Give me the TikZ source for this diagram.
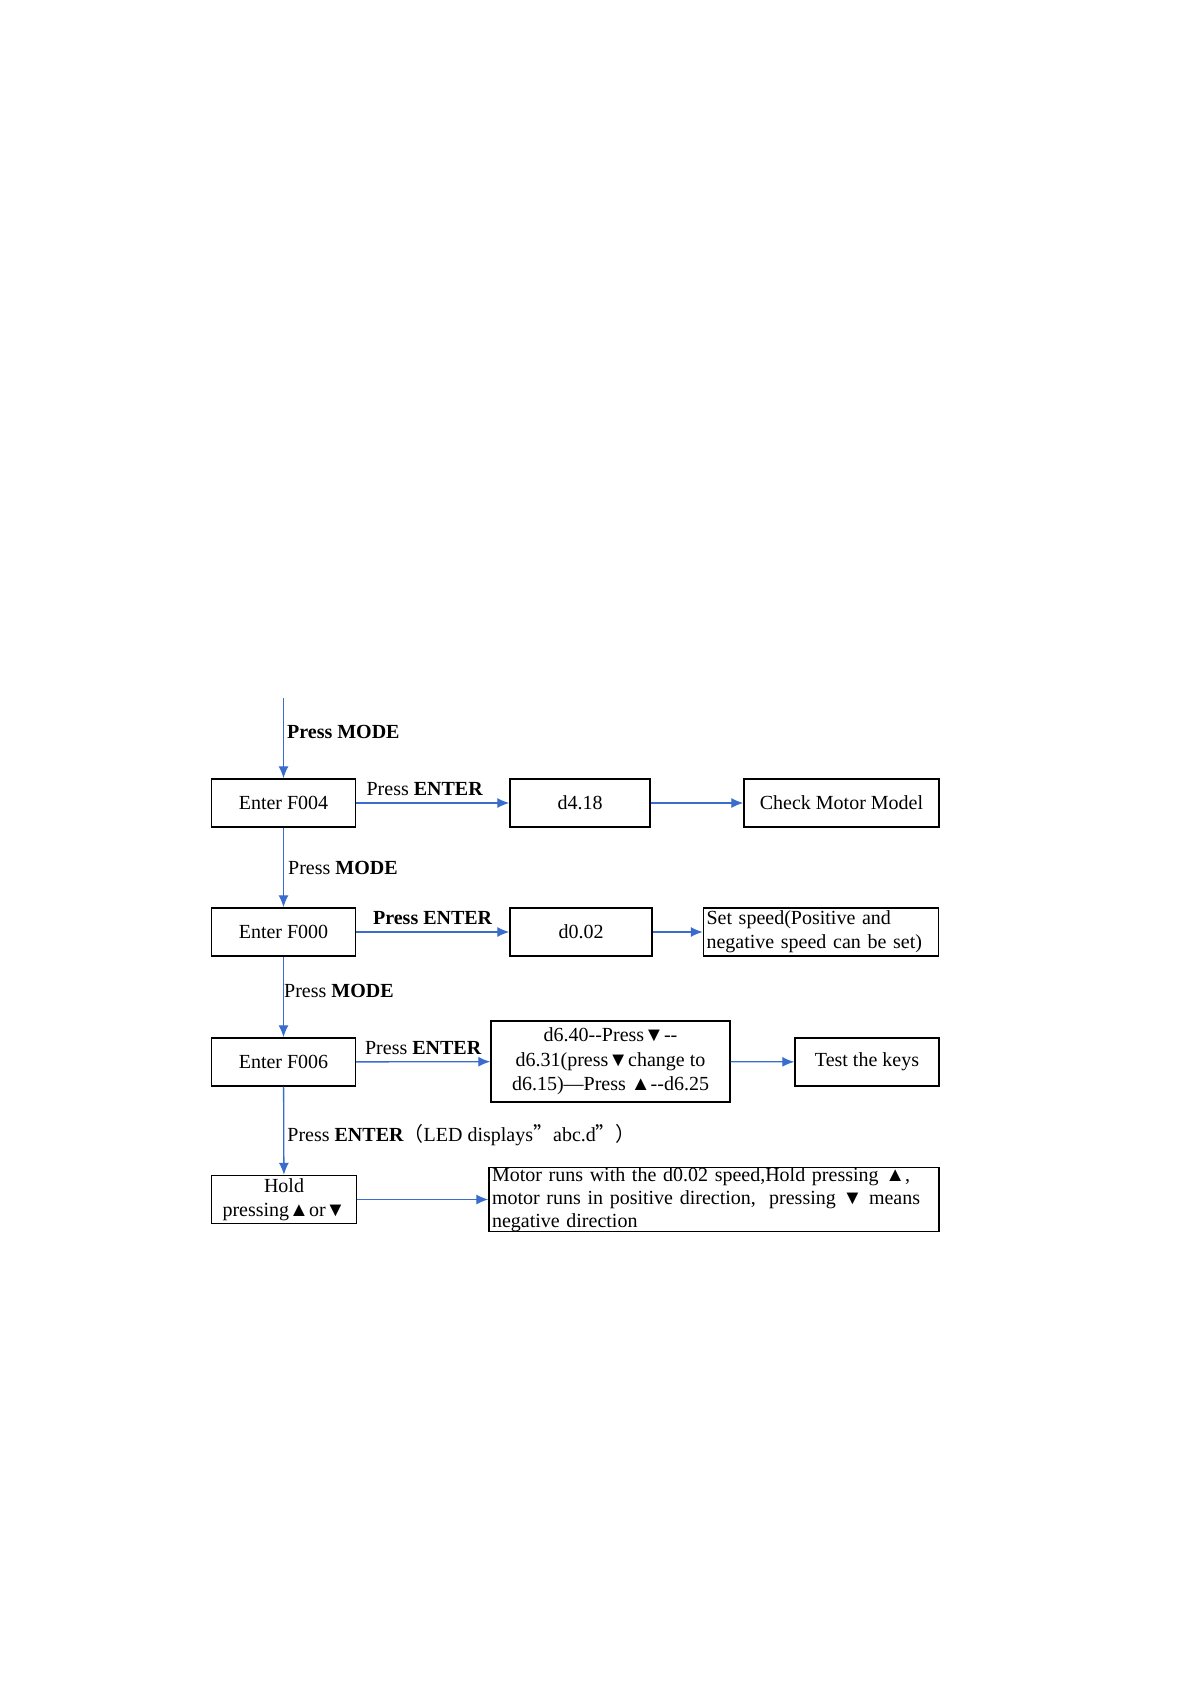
\documentclass[tikz,border=0pt]{standalone}
\usepackage{fontspec}
\setmainfont{Liberation Serif}
\newfontfamily\cjk{Noto Sans CJK SC}
\usetikzlibrary{arrows.meta}
\definecolor{flowblue}{RGB}{58,108,206}
\tikzset{
  box/.style={draw, line width=0.7pt, minimum height=24pt, inner sep=1.5pt,
    font=\fontsize{10}{12}\selectfont},
  flow/.style={->, flowblue, line width=0.65pt},
  lbl/.style={font=\fontsize{10}{12}\selectfont, text=black}
}
\begin{document}
\begin{tikzpicture}[x=0.5pt, y=-0.5pt, >={Latex[length=6pt,width=5pt]}]
    % Khung trang (pixel)
    \useasboundingbox (0,0) rectangle (1191,1684);

    % Cột trái
    \coordinate (start) at (283.5,698);
    \node[box, minimum width=72pt] (f004) at (283.5,803) {Enter F004};
    \node[box, minimum width=72pt] (f000) at (283.5,932) {Enter F000};
    \node[box, minimum width=72pt] (f006) at (283.5,1062) {Enter F006};
    \node[box, minimum width=72.5pt, inner ysep=0.5pt, align=center,
        font=\fontsize{10}{11.8}\selectfont] (hold) at (284,1199.5)
        {Hold\\pressing▲or▼};

    % Hiển thị
    \node[box, minimum width=70pt] (d418) at (580,803) {d4.18};
    \node[box, minimum width=71pt] (d002) at (581,932) {d0.02};
    \node[box, minimum width=119.5pt, minimum height=40.5pt, align=center,
        font=\fontsize{10}{12.3}\selectfont] (d640) at (610.5,1061.5)
        {d6.40-{}-Press▼-{}-\\d6.31(press▼change to\\d6.15)—Press ▲-{}-d6.25};

    % Cột phải
    \node[box, minimum width=97.5pt] (check) at (841.5,803) {Check Motor Model};
    \node[box, text width=114.5pt, align=left] (setspd) at (821,932)
        {Set speed(Positive and\\negative speed can be set)};
    \node[box, minimum width=72pt] (keys) at (867,1062) {Test the keys};
    \node[box, text width=222pt, inner ysep=0pt, align=left,
        font=\fontsize{10}{11.5}\selectfont] (motor) at (714,1199.5)
        {Motor runs with the d0.02 speed,Hold pressing ▲,\\
         motor runs in positive direction,\ \ pressing ▼ means\\
         negative direction};

    % Mũi tên dọc
    \draw[flow] (start) -- node[lbl, right, inner xsep=1.5pt, pos=0.42] {\textbf{Press MODE}} (f004);
    \draw[flow] (f004) -- node[lbl, right, inner xsep=2pt] {Press \textbf{MODE}} (f000);
    \draw[flow] (f000) -- node[lbl, right, inner xsep=0pt, pos=0.42] {Press \textbf{MODE}} (f006);
    \draw[flow] (f006) -- node[lbl, right, inner xsep=1.5pt, pos=0.55]
        {Press \textbf{ENTER}{\cjk （}LED displays{\cjk ”}abc.d{\cjk ”）}} (hold);

    % Mũi tên ngang
    \draw[flow] (f004) -- node[lbl, above, xshift=-4pt] {Press \textbf{ENTER}} (d418);
    \draw[flow] (d418) -- (check);
    \draw[flow] (f000) -- node[lbl, above] {\textbf{Press ENTER}} (d002);
    \draw[flow] (d002) -- (setspd);
    \draw[flow] (f006) -- node[lbl, above] {Press \textbf{ENTER}} (d640);
    \draw[flow] (d640) -- (keys);
    \draw[flow] (hold) -- (motor);

\end{tikzpicture}
\end{document}
